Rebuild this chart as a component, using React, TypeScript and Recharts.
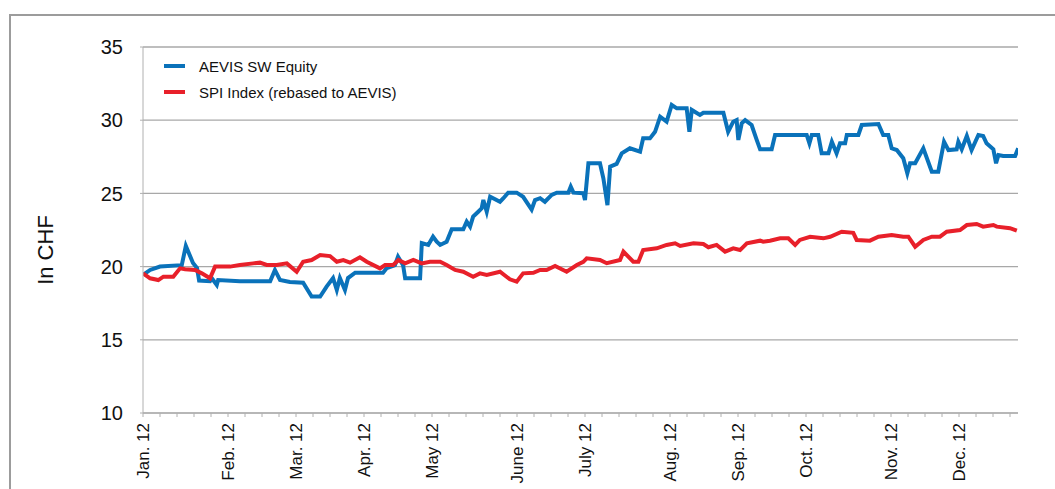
import React from 'react';
import { LineChart, Line, XAxis, YAxis, CartesianGrid, Legend } from 'recharts';

// trading-day index (0 = first trading day of Jan 2012)
const aevisDays = [0,2.1,5,11.4,12.6,14.7,15.9,16.5,19.7,20.2,21.7,22.1,28.5,37.4,38.8,40.3,43.2,47.1,49.6,52.1,54.0,55.9,57.0,57.9,59.4,60.3,62.4,70.6,71.7,74.1,75.0,76.5,77.1,81.5,82.0,83.9,85.3,86.4,87.4,89.3,90.8,94.2,95.2,96.2,97.1,98.6,99.6,100.1,101.1,102.1,105.0,106.0,107.4,109.9,111.8,114.3,115.3,116.8,118.2,120.2,121.7,125.1,125.8,126.6,129.5,130.0,131.0,134.4,135.4,136.6,137.4,139.3,140.8,143.2,146.2,147.1,149.1,150.6,152.1,154.0,155.5,157.0,159.9,160.7,161.4,163.8,164.8,170.7,172.1,173.6,174.6,175.1,176.1,177.1,179.0,180.5,181.5,184.9,185.9,195.2,196.0,196.7,198.6,199.6,201.6,202.6,204.0,205.0,206.5,207.0,210.4,211.4,216.3,217.7,219.2,220.2,221.7,223.6,224.8,225.6,227.1,229.5,232.0,233.9,235.6,236.9,239.3,239.8,240.8,242.3,243.7,245.7,247.1,248.1,250.1,250.9,251.6,253.0,256.5,257.4];
const aevisPrices = [19.43,19.77,20.0,20.1,21.41,20.25,19.9,19.05,19.0,19.22,18.74,19.08,19.0,19.0,19.77,19.08,18.95,18.9,17.95,17.95,18.63,19.22,18.4,19.22,18.4,19.22,19.58,19.58,19.9,20.1,20.68,20.1,19.2,19.2,21.6,21.48,22.04,21.7,21.48,21.7,22.55,22.55,23.07,22.73,23.41,23.75,23.98,24.55,23.75,24.77,24.43,24.67,25.05,25.05,24.77,23.9,24.55,24.67,24.43,24.9,25.05,25.05,25.46,25.05,25.01,24.55,27.06,27.06,26.03,24.2,26.83,27.01,27.74,28.08,27.85,28.76,28.76,29.21,30.24,29.9,31.04,30.81,30.81,29.21,30.7,30.36,30.51,30.51,29.21,29.9,30.01,28.65,29.79,30.01,29.67,28.65,28.01,28.01,28.99,28.99,28.42,28.99,28.99,27.74,27.74,28.53,27.74,28.42,28.42,28.99,28.99,29.67,29.74,28.99,28.99,28.08,27.96,27.4,26.37,27.06,27.06,28.08,26.48,26.48,28.53,27.96,28.01,28.53,28.01,28.92,27.96,28.99,28.92,28.42,28.01,27.06,27.62,27.55,27.55,28.08];

const spiDays = [0,2.1,4.5,6.0,8.9,10.9,12.4,15.3,17.3,19.7,21.2,25.6,28.5,32.4,34.4,36.4,39.3,42.3,45.2,47.1,49.6,52.1,55.0,57.0,58.9,60.9,63.8,65.8,69.7,71.2,73.6,75.1,77.1,79.5,82.0,84.4,87.4,89.3,91.8,94.2,97.1,99.1,101.1,105.0,107.9,109.9,111.8,114.8,116.8,118.7,121.2,124.6,127.6,129.5,130.5,134.4,136.4,140.3,141.3,144.2,145.7,147.1,151.1,154.0,156.5,158.0,161.9,164.8,166.3,168.7,171.2,173.6,175.6,177.6,181.5,182.4,184.4,187.4,189.8,191.8,193.2,196.2,200.1,202.1,205.5,208.9,209.9,213.8,216.3,220.2,223.6,225.1,227.1,229.5,232.0,234.4,236.4,240.3,242.3,245.2,247.1,250.1,251.1,255.0,257.0];
const spiPrices = [19.54,19.2,19.08,19.31,19.31,19.88,19.82,19.77,19.54,19.2,20.0,20.0,20.11,20.22,20.27,20.11,20.11,20.22,19.65,20.33,20.45,20.79,20.72,20.33,20.45,20.27,20.64,20.33,19.88,20.11,20.11,20.45,20.22,20.45,20.22,20.33,20.33,20.11,19.77,19.65,19.31,19.54,19.43,19.65,19.13,18.97,19.54,19.58,19.77,19.77,20.04,19.65,20.11,20.33,20.57,20.45,20.23,20.45,21.02,20.33,20.33,21.13,21.25,21.48,21.59,21.41,21.59,21.54,21.32,21.48,21.02,21.25,21.13,21.59,21.77,21.7,21.77,21.93,21.93,21.48,21.82,22.04,21.93,22.04,22.38,22.31,21.82,21.77,22.04,22.16,22.04,22.04,21.36,21.82,22.04,22.04,22.38,22.5,22.84,22.91,22.73,22.84,22.73,22.62,22.45];

const monthLabels = ['Jan. 12','Feb. 12','Mar. 12','Apr. 12','May 12','June 12','July 12','Aug. 12','Sep. 12','Oct. 12','Nov. 12','Dec. 12'];
const monthTickDays = [0,25,45,65,85,110,130,155,175,195,220,240];
const weekTicks = Array.from({ length: 52 }, (_, i) => i * 5);
const yTicks = [10, 15, 20, 25, 30, 35];

const aevisData = aevisDays.map((d, i) => ({ d, v: aevisPrices[i] }));
const spiData = spiDays.map((d, i) => ({ d, v: spiPrices[i] }));

const FONT = '"Liberation Sans", Arial, Helvetica, sans-serif';
const BLUE = '#0a72ba';
const RED = '#e8202a';

const XTick = (props: any) => {
  const { x, y, payload } = props;
  const idx = monthTickDays.indexOf(payload.value);
  if (idx < 0) return null;
  const ty = y + 4;
  return (
    <text x={x} y={ty} transform={`rotate(-90, ${x}, ${ty})`} textAnchor="end" dominantBaseline="central"
      fontFamily={FONT} fontSize={17} fill="#111">{monthLabels[idx]}</text>
  );
};

const LegendContent = (props: any) => {
  const items = props.payload || [];
  return (
    <div style={{ fontFamily: FONT, fontSize: 15, color: '#111' }}>
      {items.map((it: any) => (
        <div key={it.value} style={{ display: 'flex', alignItems: 'center', height: 26 }}>
          <span style={{ display: 'inline-block', width: 21, height: 4, background: it.color, marginRight: 14 }} />
          <span>{it.value}</span>
        </div>
      ))}
    </div>
  );
};

const YLabel = (props: any) => {
  const vb = props.viewBox || { x: 83, y: 47, width: 60, height: 366 };
  const cx = vb.x - 38;
  const cy = vb.y + vb.height / 2 + 20;
  return (
    <text x={cx} y={cy} transform={`rotate(-90, ${cx}, ${cy})`} textAnchor="middle" dominantBaseline="central"
      fontFamily={FONT} fontSize={22} fill="#111">In CHF</text>
  );
};

export default function App() {
  return (
    <div style={{ position: 'fixed', left: 0, top: 0, width: 1055, height: 489, overflow: 'hidden', background: '#fff' }}>
      <div style={{ position: 'absolute', left: 9, top: 14, width: 1200, height: 600, border: '2px solid #9c9c9c' }} />
      <div style={{ position: 'absolute', left: 0, top: 0 }}>
        <LineChart width={1055} height={489} margin={{ top: 47, right: 37, bottom: 6, left: 83 }}>
          <CartesianGrid horizontal vertical={false} stroke="#a8a8a8" strokeWidth={1.3} />
          <XAxis type="number" dataKey="d" domain={[0, 257.35]} ticks={weekTicks} interval={0} height={70}
            tick={<XTick />} tickSize={4} stroke="#b0b0b0" allowDataOverflow />
          <YAxis type="number" domain={[10, 35]} ticks={yTicks} width={60} tickSize={3} tickMargin={17}
            stroke="#b0b0b0" tick={{ fontFamily: FONT, fontSize: 20, fill: '#111' }}
            label={<YLabel />} />
          <Legend layout="horizontal" align="center" verticalAlign="middle" content={<LegendContent />}
            wrapperStyle={{ left: 164, top: 53, width: 'auto', height: 'auto' }} />
          <Line data={aevisData} dataKey="v" name="AEVIS SW Equity" type="linear" stroke={BLUE} strokeWidth={4}
            dot={false} isAnimationActive={false} />
          <Line data={spiData} dataKey="v" name="SPI Index (rebased to AEVIS)" type="linear" stroke={RED} strokeWidth={4}
            dot={false} isAnimationActive={false} />
        </LineChart>
      </div>
    </div>
  );
}
